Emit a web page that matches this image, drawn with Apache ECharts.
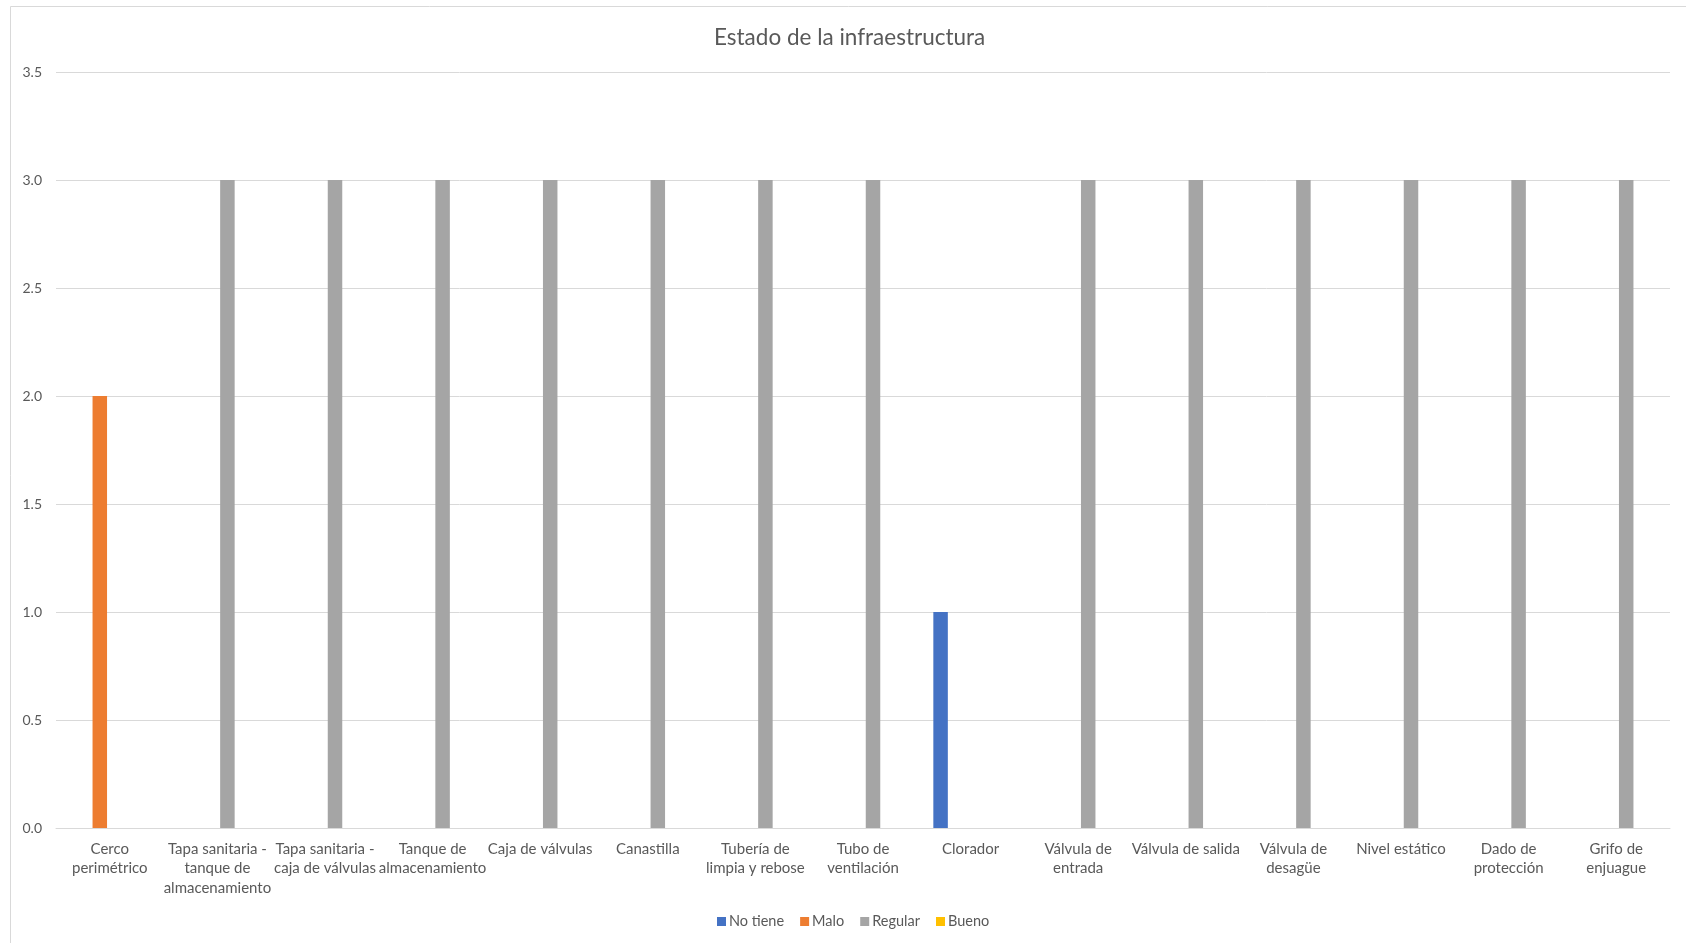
<!DOCTYPE html>
<html>
<head>
<meta charset="utf-8">
<script src="https://cdn.jsdelivr.net/npm/echarts@6/dist/echarts.min.js"></script>
<style>
html,body{margin:0;padding:0;background:#fff;}
#chart{width:1686px;height:943px;}
</style>
</head>
<body>
<div id="chart"></div>
<script>
var categories = [
  "Cerco\nperimétrico",
  "Tapa sanitaria -\ntanque de\nalmacenamiento",
  "Tapa sanitaria -\ncaja de válvulas",
  "Tanque de\nalmacenamiento",
  "Caja de válvulas",
  "Canastilla",
  "Tubería de\nlimpia y rebose",
  "Tubo de\nventilación",
  "Clorador",
  "Válvula de\nentrada",
  "Válvula de salida",
  "Válvula de\ndesagüe",
  "Nivel estático",
  "Dado de\nprotección",
  "Grifo de\nenjuague"
];
var noTiene = [null, null, null, null, null, null, null, null, 1, null, null, null, null, null, null];
var malo    = [2, null, null, null, null, null, null, null, null, null, null, null, null, null, null];
var regular = [null, 3, 3, 3, 3, 3, 3, 3, null, 3, 3, 3, 3, 3, 3];
var bueno   = [null, null, null, null, null, null, null, null, null, null, null, null, null, null, null];
var seriesNames = ["No tiene", "Malo", "Regular", "Bueno"];
var yTicks = { min: 0, max: 3.5, interval: 0.5 };

var font = "Lato, 'Open Sans', sans-serif";
var chart = echarts.init(document.getElementById('chart'), null, {renderer: 'canvas'});
function bar(name, data, color) {
  return {
    name: name, type: 'bar', data: data,
    barWidth: 14.5, barGap: '38%',
    itemStyle: { color: color },
    emphasis: { disabled: true }
  };
}
chart.setOption({
  animation: false,
  textStyle: { fontFamily: font },
  graphic: [{
    type: 'rect', silent: true, z: -10,
    shape: { x: 10.5, y: 6.5, width: 1700, height: 1000 },
    style: { fill: null, stroke: '#d9d9d9', lineWidth: 1 }
  }],
  title: {
    text: 'Estado de la infraestructura',
    left: 709, top: 21,
    textStyle: { fontFamily: font, fontSize: 22.5, fontWeight: 'normal', color: '#595959' }
  },
  legend: {
    data: seriesNames,
    bottom: 9, left: 712,
    itemWidth: 9, itemHeight: 9, itemGap: 16,
    icon: 'rect',
    textStyle: { fontFamily: font, fontSize: 14.5, color: '#595959', padding: [0, 0, 0, -2] }
  },
  grid: { left: 56, right: 16, top: 72, bottom: 115, containLabel: false },
  xAxis: {
    type: 'category', data: categories,
    axisLine: { lineStyle: { color: '#d9d9d9', width: 1 } },
    axisTick: { show: false },
    axisLabel: { interval: 0, color: '#595959', fontSize: 15, lineHeight: 19.5, margin: 11, fontFamily: font }
  },
  yAxis: {
    type: 'value', min: yTicks.min, max: yTicks.max, interval: yTicks.interval,
    axisLine: { show: false }, axisTick: { show: false },
    splitLine: { lineStyle: { color: '#d9d9d9', width: 1 } },
    axisLabel: { color: '#595959', fontSize: 14, margin: 14, fontFamily: font,
      formatter: function (v) { return v.toFixed(1); } }
  },
  series: [
    bar(seriesNames[0], noTiene, '#4472C4'),
    bar(seriesNames[1], malo, '#ED7D31'),
    bar(seriesNames[2], regular, '#A5A5A5'),
    bar(seriesNames[3], bueno, '#FFC000')
  ]
});
</script>
</body>
</html>
